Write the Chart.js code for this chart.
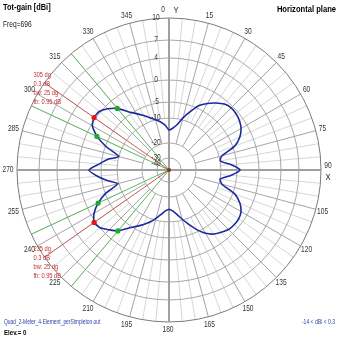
<!DOCTYPE html>
<html>
<head>
<meta charset="utf-8">
<script src="https://cdn.jsdelivr.net/npm/chart.js@4.4.1/dist/chart.umd.min.js"></script>
<style>
  html, body { margin: 0; padding: 0; background: #fff; }
  #wrap { width: 339px; height: 339px; }
</style>
</head>
<body>
<div id="wrap"><canvas id="polar" width="339" height="339"></canvas></div>
<script>
// azimuth of each sample, degrees clockwise from Y
var angleDeg = [0, 5, 10, 15, 20, 25, 30, 35, 40, 45, 50, 55,
  60, 65, 70, 75, 80, 85, 90, 95, 100, 105, 110, 115,
  120, 125, 130, 135, 140, 145, 150, 155, 160, 165, 170, 175,
  180, 185, 190, 195, 200, 205, 210, 215, 220, 225, 230, 235,
  240, 245, 250, 255, 260, 265, 270, 275, 280, 285, 290, 295,
  300, 305, 310, 315, 320, 325, 330, 335, 340, 345, 350, 355];

// total gain in dBi, horizontal plane, elev 0
var gainDbi = [-14.0, -13.3, -11.9, -9.3, -6.7, -4.2, -2.8, -1.7, -0.8, -0.4, -0.5, -0.8,
  -1.4, -2.5, -4.5, -9.0, -10.0, -6.7, -4.2, -6.7, -10.0, -9.0, -4.5, -2.5,
  -1.4, -1.0, -1.0, -1.2, -1.8, -2.5, -3.7, -5.6, -8.0, -10.3, -12.2, -13.6,
  -14.3, -13.6, -12.2, -10.6, -8.8, -7.3, -5.8, -4.2, -2.2, -1.1, 0.0, 0.3,
  -0.7, -2.5, -5.3, -9.7, -6.7, -4.0, -2.1, -4.5, -6.7, -10.0, -5.6, -2.2,
  -0.3, 0.3, 0.2, -0.7, -2.0, -4.2, -5.8, -7.3, -8.7, -10.0, -11.0, -12.2];

var ringDb = [10, 7, 4, 0, -5, -10, -20, -30, -40];
var compassTicks = ['0', '15', '30', '45', '60', '75', '90', '105', '120', '135', '150', '165',
  '180', '195', '210', '225', '240', '255', '270', '285', '300', '315', '330', '345'];

var lobeDeg = [305, 235];
var halfPowerDeg = [295, 320, 220, 245];
var lobeNotes = [
  ['305 dg', '0.3 dB', 'bw: 25 dg', 'fb: 0.95 dB'],
  ['235 dg', '0.3 dB', 'bw: 25 dg', 'fb: 0.95 dB']
];

// radius of each dB ring as a share of the outer ring (compressed log scale)
var RING_FRAC = [1, 0.855, 0.737, 0.592, 0.447, 0.342, 0.178, 0.08, 0.04];

function ringRatio(db) {
  if (db >= ringDb[0]) return RING_FRAC[0];
  for (var i = 1; i < ringDb.length; i++) {
    if (db >= ringDb[i]) {
      var t = (ringDb[i - 1] - db) / (ringDb[i - 1] - ringDb[i]);
      return RING_FRAC[i - 1] * Math.pow(RING_FRAC[i] / RING_FRAC[i - 1], t);
    }
  }
  return RING_FRAC[RING_FRAC.length - 1];
}

function narrowText(ctx, str, x, y, font, color, align, sx) {
  ctx.save();
  ctx.font = font;
  ctx.fillStyle = color;
  ctx.textAlign = align || 'left';
  ctx.textBaseline = 'middle';
  ctx.translate(x, y);
  ctx.scale(sx || 0.78, 1);
  ctx.fillText(str, 0, 0);
  ctx.restore();
}

class GainScale extends Chart.RadialLinearScale {
  static id = 'gainPolar';
  static defaults = Chart.RadialLinearScale.defaults;

  getDistanceFromCenterForValue(v) {
    if (v === null || v === undefined || isNaN(v)) return 0;
    return this.drawingArea * ringRatio(v);
  }

  at(deg, dist) {
    var step = 360 / this.chart.data.labels.length;
    return this.getPointPosition(deg / step, dist);
  }

  seg(a, b, color, w) {
    var ctx = this.ctx;
    ctx.strokeStyle = color;
    ctx.lineWidth = w;
    ctx.beginPath();
    ctx.moveTo(a.x, a.y);
    ctx.lineTo(b.x, b.y);
    ctx.stroke();
  }

  drawGrid() {
    var ctx = this.ctx, R = this.drawingArea;
    ctx.save();
    // spokes: every 5 deg outside -10 ring, every 15 deg outside -20 ring
    angleDeg.forEach((deg) => {
      if (deg % 90 === 0) return;
      var major = deg % 15 === 0;
      var r0 = R * ringRatio(major ? -20 : -10);
      this.seg(this.at(deg, r0), this.at(deg, R), major ? '#a4a4a4' : '#d6d6d6', 1);
    });
    // dB rings
    ringDb.forEach((db, k) => {
      if (db <= -40) return;
      ctx.strokeStyle = k === 0 ? '#7a7a7a' : '#a8a8a8';
      ctx.lineWidth = 1;
      ctx.beginPath();
      ctx.arc(this.xCenter, this.yCenter, R * ringRatio(db), 0, Math.PI * 2);
      ctx.stroke();
    });
    // X / Y axes
    this.seg(this.at(0, R), this.at(180, R), '#a0a0a0', 2);
    this.seg(this.at(90, R), this.at(270, R), '#a0a0a0', 2);
    // main lobe and -3 dB beam lines
    var c = { x: this.xCenter, y: this.yCenter };
    halfPowerDeg.forEach((deg) => this.seg(c, this.at(deg, R), '#5cb85c', 1));
    lobeDeg.forEach((deg) => this.seg(c, this.at(deg, R), '#c85a5a', 1));
    ctx.fillStyle = '#7a3a1a';
    ctx.beginPath();
    ctx.arc(c.x, c.y, 2, 0, Math.PI * 2);
    ctx.fill();
    ctx.restore();
  }

  drawLabels() {
    var ctx = this.ctx, R = this.drawingArea;
    var font = '8.5px "Liberation Sans", Arial, sans-serif';
    compassTicks.forEach((t) => {
      var deg = +t;
      var p = this.at(deg, R + 8);
      var x = p.x - 1, y = p.y;
      if (deg === 0) x -= 5;
      if (deg === 90) y -= 4;
      narrowText(ctx, t, x, y, font, '#333', 'center', 0.78);
    });
    var py = this.at(0, R + 8), px = this.at(90, R + 8);
    narrowText(ctx, 'Y', py.x + 7, py.y + 1, font, '#222', 'center', 0.9);
    narrowText(ctx, 'X', px.x - 1, px.y + 8, font, '#222', 'center', 0.9);
    ringDb.forEach((db) => {
      var p = this.at(0, R * ringRatio(db));
      narrowText(ctx, String(db), p.x - 13, p.y, font, '#3a3a3a', 'center', 0.78);
    });
    lobeDeg.forEach((deg, k) => {
      var p = this.at(deg, R);
      lobeNotes[k].forEach((line, j) => {
        narrowText(ctx, line, p.x - 11, p.y - 8 + j * 9, '7.5px "Liberation Sans", Arial, sans-serif', '#c03030', 'left', 0.76);
      });
    });
  }
}
Chart.register(GainScale);

function markerColor(i) {
  var deg = angleDeg[i];
  if (lobeDeg.indexOf(deg) >= 0) return '#e01818';
  if (halfPowerDeg.indexOf(deg) >= 0) return '#20a830';
  return null;
}

var captions = {
  id: 'captions',
  afterDraw(chart) {
    var ctx = chart.ctx;
    var sans = '"Liberation Sans", Arial, sans-serif';
    narrowText(ctx, 'Tot-gain [dBi]', 3, 7, 'bold 9.5px ' + sans, '#000', 'left', 0.78);
    narrowText(ctx, 'Freq=696', 3, 25, '8.5px ' + sans, '#222', 'left', 0.78);
    narrowText(ctx, 'Horizontal plane', 336, 9, 'bold 9.5px ' + sans, '#000', 'right', 0.8);
    narrowText(ctx, 'Quad_2-Meter_4-Element_perSimpleton.out', 4, 322, '7px ' + sans, '#3040a8', 'left', 0.7);
    narrowText(ctx, 'Elev.= 0', 4, 333, 'bold 8px ' + sans, '#000', 'left', 0.76);
    narrowText(ctx, '-14 < dBi < 0.3', 335, 322, '7px ' + sans, '#3040a8', 'right', 0.72);
  }
};

new Chart(document.getElementById('polar'), {
  type: 'radar',
  data: {
    labels: angleDeg,
    datasets: [{
      data: gainDbi,
      borderColor: '#1a2a9e',
      borderWidth: 1.6,
      backgroundColor: 'transparent',
      fill: false,
      tension: 0.2,
      pointRadius: (c) => markerColor(c.dataIndex) ? 2.6 : 0,
      pointBackgroundColor: (c) => markerColor(c.dataIndex) || '#1a2a9e',
      pointBorderWidth: 0
    }]
  },
  options: {
    responsive: false,
    animation: false,
    layout: { padding: { left: 17, right: 18, top: 18, bottom: 17 } },
    plugins: { legend: { display: false }, tooltip: { enabled: false } },
    scales: {
      r: {
        type: 'gainPolar',
        min: -40,
        max: 10,
        ticks: { display: false },
        pointLabels: { display: false },
        angleLines: { display: false },
        grid: { display: false }
      }
    }
  },
  plugins: [captions]
});
</script>
</body>
</html>
